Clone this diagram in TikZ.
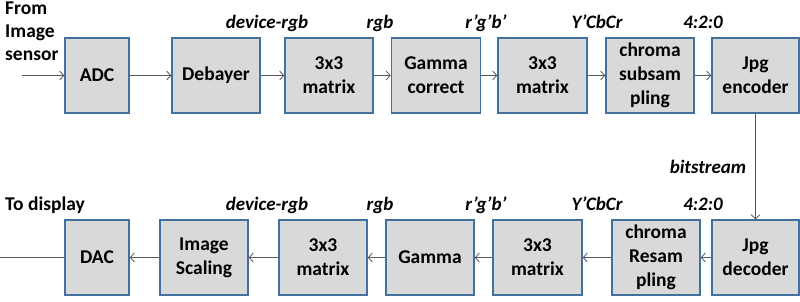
\documentclass[tikz,border=0pt]{standalone}
\usepackage{fontspec}
\setmainfont{Carlito}
\usetikzlibrary{arrows.meta}
\definecolor{boxfill}{HTML}{D9D9D9}
\definecolor{boxline}{HTML}{41719C}
\definecolor{wiregray}{HTML}{595959}
\tikzset{
  block/.style={draw=boxline, fill=boxfill, line width=1.6pt, minimum height=75,
    align=center, inner sep=1pt, font=\fontsize{19.5}{24}\selectfont\bfseries},
  tag/.style={font=\fontsize{19}{21}\selectfont\bfseries\itshape, anchor=base, inner sep=0pt},
  note/.style={font=\fontsize{19.5}{23}\selectfont\bfseries, align=left, inner sep=0pt},
  wire/.style={draw=wiregray, line width=0.8pt, -{Straight Barb[length=4pt,width=9pt]}}
}
\begin{document}
\begin{tikzpicture}[x=1pt,y=-1pt]
  \useasboundingbox (0,0) rectangle (800,301);
  % encoder row
  \foreach \n/\x/\w/\t in {adc/97/64/ADC, dbay/216/88/Debayer, mtxa/329/88/{3x3\\matrix},
      gam/436/89/{Gamma\\correct}, mtxb/542.5/89/{3x3\\matrix},
      sub/650/88/{chroma\\subsam\\pling}, enc/755.5/87/{Jpg\\encoder}}
    \node[block, minimum width=\w] (\n) at (\x,75.5) {\t};
  % decoder row
  \foreach \n/\x/\w/\t in {dac/97/64/DAC, scal/204/88/{Image\\Scaling}, mtxc/323/88/{3x3\\matrix},
      igam/430/88/{Gamma}, mtxd/537.5/89/{3x3\\matrix},
      resa/656/88/{chroma\\Resam\\pling}, dec/755.5/87/{Jpg\\decoder}}
    \node[block, minimum width=\w] (\n) at (\x,257.5) {\t};

  \coordinate (src) at (22,75.5);
  \coordinate (dst) at (0,257.5);
  \foreach \a/\b in {src/adc, adc/dbay, dbay/mtxa, mtxa/gam, gam/mtxb, mtxb/sub, sub/enc,
      enc/dec, dec/resa, resa/mtxd, mtxd/igam, igam/mtxc, mtxc/scal, scal/dac}
    \draw[wire] (\a) -- (\b);
  \draw[wire, -] (dac) -- (dst);

  % signal labels
  \foreach \y/\r in {28/t, 210/b} {
    \node[tag] (dev\r) at (267,\y) {device-rgb};
    \node[tag] (rgb\r) at (380,\y) {rgb};
    \node[tag] (gam\r) at (486,\y) {r’g’b’};
    \node[tag] (ycc\r) at (597,\y) {Y’CbCr};
    \node[tag] (fmt\r) at (703,\y) {4:2:0};
  }
  \node[tag] (bits) at (708,173) {bitstream};
  \node[note, anchor=north west] (from) at (5,2) {From\\Image\\sensor};
  \node[note, anchor=base west] (todisp) at (5,210) {To display};
\end{tikzpicture}
\end{document}
